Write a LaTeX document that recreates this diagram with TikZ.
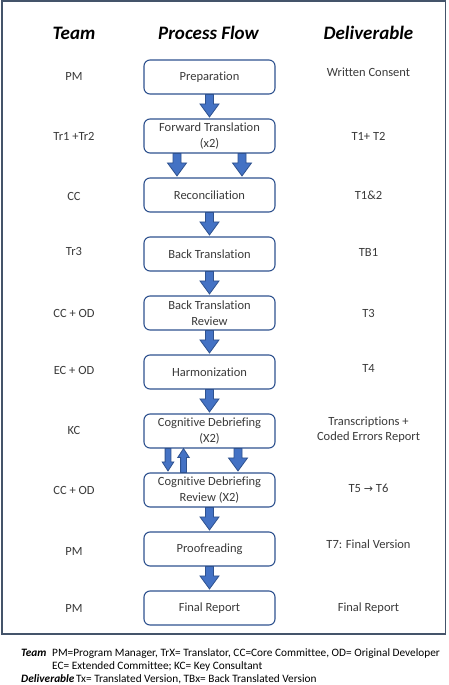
\documentclass[tikz,border=0pt]{standalone}
\usepackage{fontspec}
\setmainfont{Carlito}[Ligatures={NoCommon,NoContextual}, Contextuals=NoAlternate]
\newfontfamily\djsans{DejaVu Sans}
\usetikzlibrary{calc}
\definecolor{arrowfill}{HTML}{4472C4}
\definecolor{arrowline}{HTML}{2F528F}
\definecolor{boxline}{HTML}{2F528F}
\definecolor{framecol}{HTML}{44546A}
\definecolor{textgray}{HTML}{3A3A3A}
\tikzset{
  blk/.style n args={3}{draw=arrowline, fill=arrowfill, line width=0.8pt, line join=miter,
    to path={let \p1=(\tikztostart), \p2=(\tikztotarget), \n1={ifthenelse(\y1>\y2,1,-1)} in
      ({\x1-#1},\y1) -- ({\x1+#1},\y1) -- ({\x1+#1},{\y2+(\n1)*(#3)}) -- ({\x1+#2},{\y2+(\n1)*(#3)})
      -- (\x1,\y2) -- ({\x1-#2},{\y2+(\n1)*(#3)}) -- ({\x1-#1},{\y2+(\n1)*(#3)}) -- cycle}},
  bigarrow/.style={blk={4pt}{9.5pt}{13pt}},
  smallarrow/.style={blk={2.9pt}{5.8pt}{9pt}},
  box/.style={draw=boxline, line width=1.1pt, rounded corners=6pt, minimum width=131pt,
    minimum height=34pt, align=center, inner sep=1pt, text=textgray,
    font=\fontsize{12.5}{16}\selectfont},
  lbl/.style={anchor=base, inner sep=0pt, text=textgray, align=center,
    font=\fontsize{12.5}{15}\selectfont},
  hdr/.style={anchor=base, inner sep=0pt, text=black,
    font=\fontsize{19}{22}\selectfont\bfseries\itshape},
  foot/.style={anchor=base west, inner sep=0pt, text=black,
    font=\fontsize{11.3}{13}\selectfont},
  footb/.style={foot, font=\fontsize{11.3}{13}\selectfont\bfseries\itshape},
}
\begin{document}
\begin{tikzpicture}[x=1pt,y=-1pt]
\useasboundingbox (0,0) rectangle (448,685);
\fill[white] (0,0) rectangle (448,685);
\draw[framecol, line width=1.3pt] (2,1) rectangle (445.5,634);

% headers
\node[hdr] (hteam) at (74,39.5) {Team};
\node[hdr] (hflow) at (208.5,39.5) {Process Flow};
\node[hdr] (hdel) at (368.5,39.5) {Deliverable};

% process boxes
\node[box] (prep)  at (209.5,77)  {Preparation};
\node[box] (fwd)   at (209.5,136) {Forward Translation\\(x2)};
\node[box] (rec)   at (209.5,195) {Reconciliation};
\node[box] (bt)    at (209.5,254) {Back Translation};
\node[box] (btr)   at (209.5,313) {Back Translation\\Review};
\node[box] (harm)  at (209.5,372) {Harmonization};
\node[box] (cd)    at (209.5,431) {Cognitive Debriefing\\(X2)};
\node[box] (cdr)   at (209.5,490) {Cognitive Debriefing\\Review (X2)};
\node[box] (proof) at (209.5,549) {Proofreading};
\node[box] (final) at (209.5,608) {Final Report};

% arrows
\draw[bigarrow] (prep.south) to ([yshift=1.5pt]fwd.north);
\draw[bigarrow] ([xshift=-32.5pt]fwd.south) to ([xshift=-32.5pt,yshift=1.5pt]rec.north);
\draw[bigarrow] ([xshift=32.5pt]fwd.south) to ([xshift=32.5pt,yshift=1.5pt]rec.north);
\draw[bigarrow] (rec.south) to ([yshift=1.5pt]bt.north);
\draw[bigarrow] (bt.south) to ([yshift=1.5pt]btr.north);
\draw[bigarrow] (btr.south) to ([yshift=1.5pt]harm.north);
\draw[bigarrow] (harm.south) to ([yshift=1.5pt]cd.north);
\draw[smallarrow] ([xshift=-41.5pt]cd.south) to ([xshift=-41.5pt,yshift=1.5pt]cdr.north);
\draw[smallarrow] ([xshift=-26pt]cdr.north) to ([xshift=-26pt]cd.south);
\draw[bigarrow] ([xshift=28.5pt]cd.south) to ([xshift=28.5pt,yshift=1.5pt]cdr.north);
\draw[bigarrow] (cdr.south) to ([yshift=1.5pt]proof.north);
\draw[bigarrow] (proof.south) to ([yshift=1.5pt]final.north);

% team
\node[lbl] (t1)  at (74,81)  {PM};
\node[lbl] (t2)  at (74,140) {Tr1 +Tr2};
\node[lbl] (t3)  at (74,200) {CC};
\node[lbl] (t4)  at (74,255) {Tr3};
\node[lbl] (t5)  at (74,317) {CC + OD};
\node[lbl] (t6)  at (74,374) {EC + OD};
\node[lbl] (t7)  at (74,434) {KC};
\node[lbl] (t8)  at (74,494) {CC + OD};
\node[lbl] (t9)  at (74,555) {PM};
\node[lbl] (t10) at (74,612) {PM};

% deliverables
\node[lbl] (d1)  at (368.5,77)  {Written Consent};
\node[lbl] (d2)  at (368.5,140) {T1+ T2};
\node[lbl] (d3)  at (368.5,199) {T1\&2};
\node[lbl] (d4)  at (368.5,256) {TB1};
\node[lbl] (d5)  at (368.5,317) {T3};
\node[lbl] (d6)  at (368.5,372) {T4};
\node[lbl, anchor=center] (d7) at (368.5,430) {Transcriptions +\\Coded Errors Report};
\node[lbl] (d8)  at (368.5,492) {T5 {\djsans\fontsize{11}{13}\selectfont →} T6};
\node[lbl] (d9)  at (368.5,548) {T7: Final Version};
\node[lbl] (d10) at (368.5,611) {Final Report};

% footer
\node[footb] (fteam) at (21,656) {Team};
\node[foot] (fteamtxt) at (52,656) {PM=Program Manager, TrX= Translator, CC=Core Committee, OD= Original Developer};
\node[foot] (fteamtxt2) at (52,669.5) {EC= Extended Committee; KC= Key Consultant};
\node[footb] (fdel) at (21,682) {Deliverable};
\node[foot] (fdeltxt) at (76,682) {Tx= Translated Version, TBx= Back Translated Version};
\end{tikzpicture}
\end{document}
